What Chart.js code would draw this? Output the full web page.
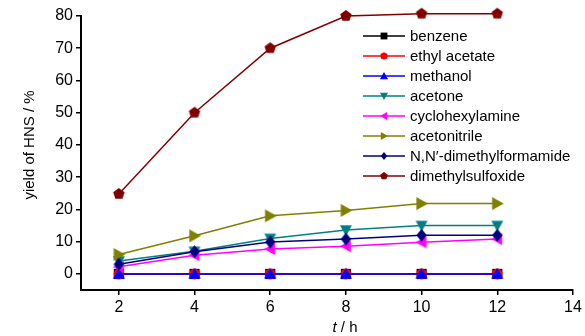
<!DOCTYPE html>
<html>
<head>
<meta charset="utf-8">
<script src="https://cdn.jsdelivr.net/npm/chart.js@4.4.1/dist/chart.umd.min.js"></script>
<style>
html,body{margin:0;padding:0;background:#fff;}
#wrap{width:585px;height:336px;position:relative;}
</style>
</head>
<body>
<div id="wrap"><canvas id="c" width="585" height="336"></canvas></div>
<script>
// ---- data ----
const timeH = [2, 4, 6, 8, 10, 12];
const seriesNames = ["benzene", "ethyl acetate", "methanol", "acetone", "cyclohexylamine", "acetonitrile", "N,N\u2032-dimethylformamide", "dimethylsulfoxide"];
const benzene = [0, 0, 0, 0, 0, 0];
const ethylAcetate = [0, 0, 0, 0, 0, 0];
const methanol = [0, 0, 0, 0, 0, 0];
const acetone = [4, 7, 11, 13.6, 15, 15];
const cyclohexylamine = [2.2, 5.8, 7.7, 8.6, 9.8, 10.8];
const acetonitrile = [6, 11.8, 18, 19.7, 21.8, 21.8];
const dmf = [3, 6.9, 9.9, 10.8, 12, 12];
const dmso = [24.8, 50, 70, 80, 80.7, 80.7];
const xTicks = [2, 4, 6, 8, 10, 12, 14];
const yTicks = [0, 10, 20, 30, 40, 50, 60, 70, 80];

const seriesValues = [benzene, ethylAcetate, methanol, acetone, cyclohexylamine, acetonitrile, dmf, dmso];
const colors = ["#000000", "#ff0000", "#0000ff", "#008080", "#ff00ff", "#808000", "#000080", "#800000"];
const shapes = ["square", "circle", "triUp", "triDown", "triLeft", "triRight", "diamond", "pentagon"];
const markerSizes = [12, 12, 12, 12, 12, 13, 13, 12];

const FONT = "'Liberation Sans', Arial, sans-serif";

function makeMarker(shape, color, s) {
  const c = document.createElement('canvas');
  const w = s + 2;
  c.width = w; c.height = w;
  const g = c.getContext('2d');
  g.fillStyle = color;
  const cx = w / 2, cy = w / 2, r = s / 2;
  g.beginPath();
  if (shape === 'square') {
    g.rect(cx - r * 0.85, cy - r * 0.85, r * 1.7, r * 1.7);
  } else if (shape === 'circle') {
    g.arc(cx, cy, r * 0.9, 0, Math.PI * 2);
  } else if (shape === 'triUp') {
    g.moveTo(cx, cy - r); g.lineTo(cx + r, cy + r * 0.8); g.lineTo(cx - r, cy + r * 0.8);
  } else if (shape === 'triDown') {
    g.moveTo(cx, cy + r); g.lineTo(cx + r, cy - r * 0.8); g.lineTo(cx - r, cy - r * 0.8);
  } else if (shape === 'triLeft') {
    g.moveTo(cx - r, cy); g.lineTo(cx + r * 0.8, cy - r); g.lineTo(cx + r * 0.8, cy + r);
  } else if (shape === 'triRight') {
    g.moveTo(cx + r, cy); g.lineTo(cx - r * 0.8, cy - r); g.lineTo(cx - r * 0.8, cy + r);
  } else if (shape === 'diamond') {
    g.moveTo(cx, cy - r); g.lineTo(cx + r * 0.8, cy); g.lineTo(cx, cy + r); g.lineTo(cx - r * 0.8, cy);
  } else if (shape === 'pentagon') {
    for (let k = 0; k < 5; k++) {
      const a = -Math.PI / 2 + k * 2 * Math.PI / 5;
      const px = cx + r * Math.cos(a), py = cy + r * Math.sin(a);
      if (k === 0) g.moveTo(px, py); else g.lineTo(px, py);
    }
  }
  g.closePath();
  g.fill();
  return c;
}

const dataMarkers = shapes.map((s, i) => makeMarker(s, colors[i], markerSizes[i]));
const legendMarkers = shapes.map((s, i) => makeMarker(s, colors[i], 8));

const datasets = seriesValues.map((vals, i) => ({
  label: seriesNames[i],
  data: timeH.map((t, k) => ({ x: t, y: vals[k] })),
  borderColor: colors[i],
  backgroundColor: colors[i],
  borderWidth: 1.5,
  pointStyle: dataMarkers[i],
  pointRadius: 6,
  order: seriesValues.length - i,
  clip: false,
  tension: 0
}));

const overlay = {
  id: 'overlay',
  afterDraw(chart) {
    const ctx = chart.ctx;
    ctx.save();
    // legend
    ctx.font = "15px " + FONT;
    ctx.textBaseline = 'middle';
    ctx.textAlign = 'left';
    seriesNames.forEach((name, i) => {
      const y = 36 + i * 20;
      ctx.strokeStyle = colors[i];
      ctx.lineWidth = 1.3;
      ctx.beginPath(); ctx.moveTo(363, y); ctx.lineTo(405, y); ctx.stroke();
      const m = legendMarkers[i];
      ctx.drawImage(m, 384 - m.width / 2, y - m.height / 2);
      ctx.fillStyle = '#000';
      ctx.fillText(name, 410, y + 1);
    });
    // y title
    ctx.save();
    ctx.translate(30, 145);
    ctx.rotate(-Math.PI / 2);
    ctx.textAlign = 'center';
    ctx.font = "15px " + FONT;
    ctx.fillStyle = '#000';
    ctx.fillText("yield of HNS / %", 0, 0);
    ctx.restore();
    // x title
    ctx.font = "italic 15px " + FONT;
    const w1 = ctx.measureText("t").width;
    ctx.font = "15px " + FONT;
    const w2 = ctx.measureText(" / h").width;
    const x0 = 345 - (w1 + w2) / 2;
    ctx.textAlign = 'left';
    ctx.fillStyle = '#000';
    ctx.font = "italic 15px " + FONT;
    ctx.fillText("t", x0, 328);
    ctx.font = "15px " + FONT;
    ctx.fillText(" / h", x0 + w1, 328);
    ctx.restore();
  }
};

new Chart(document.getElementById('c'), {
  type: 'line',
  data: { datasets },
  options: {
    responsive: false,
    animation: false,
    events: [],
    layout: { padding: { top: 16, right: 12, left: 0, bottom: 0 } },
    plugins: { legend: { display: false }, tooltip: { enabled: false } },
    scales: {
      x: {
        type: 'linear',
        min: 1, max: 14,
        afterBuildTicks: (s) => { s.ticks = xTicks.map(v => ({ value: v })); },
        afterFit: (s) => { s.height = 46; },
        grid: { drawOnChartArea: false, drawTicks: true, tickLength: 5, color: '#000', lineWidth: 1.5 },
        border: { color: '#000', width: 2 },
        ticks: { color: '#000', font: { family: FONT, size: 16 }, padding: 3, maxRotation: 0, autoSkip: false }
      },
      y: {
        type: 'linear',
        min: -5, max: 80,
        afterBuildTicks: (s) => { s.ticks = yTicks.map(v => ({ value: v })); },
        afterFit: (s) => { s.width = 81; },
        grid: { drawOnChartArea: false, drawTicks: true, tickLength: 5, color: '#000', lineWidth: 1.5 },
        border: { color: '#000', width: 2 },
        ticks: { color: '#000', font: { family: FONT, size: 16 }, padding: 3, autoSkip: false }
      }
    }
  },
  plugins: [overlay]
});
</script>
</body>
</html>
